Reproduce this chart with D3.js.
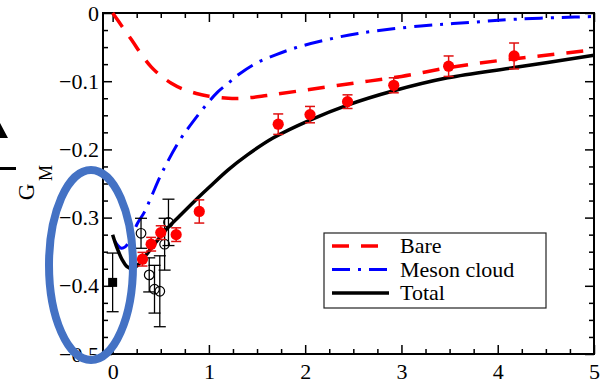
<!DOCTYPE html>
<html lang="en">
<head>
<meta charset="UTF-8">
<title>G_M vs Q2</title>
<script src="https://d3js.org/d3.v7.min.js"></script>
<style>
    body { margin: 0; background: white; }
    svg { display: block; }
    svg text { font-family: "Liberation Serif", "DejaVu Serif", serif; }
</style>
</head>
<body>
<svg id="chart" width="606" height="383"></svg>
<script>
// Curves: [Q2, G_M]
const bareCurve = [[0, 0], [0.1, -0.02], [0.2, -0.04], [0.3, -0.061], [0.4, -0.079], [0.5, -0.092],
    [0.61, -0.103], [0.72, -0.111], [0.87, -0.118], [1.0, -0.122], [1.2, -0.125], [1.35, -0.125],
    [1.6, -0.121], [2.0, -0.113], [2.5, -0.103], [3.0, -0.093], [3.5, -0.080], [4.0, -0.070],
    [4.5, -0.062], [5.0, -0.054]];
const mesonCurve = [[0.02, -0.334], [0.05, -0.340], [0.09, -0.345], [0.13, -0.343], [0.18, -0.333],
    [0.26, -0.308], [0.33, -0.292], [0.4, -0.270], [0.52, -0.232], [0.7, -0.186], [0.8, -0.166],
    [0.93, -0.142], [1.09, -0.116], [1.2, -0.103], [1.32, -0.089], [1.5, -0.073], [1.7, -0.061],
    [1.9, -0.051], [2.2, -0.040], [2.55, -0.030], [3.2, -0.019], [3.7, -0.014], [4.2, -0.009],
    [4.8, -0.006], [5.0, -0.005]];
const totalCurve = [[0, -0.325], [0.05, -0.346], [0.1, -0.362], [0.15, -0.372], [0.2, -0.375],
    [0.25, -0.371], [0.33, -0.358], [0.45, -0.336], [0.56, -0.317], [0.7, -0.297], [0.85, -0.276],
    [1.0, -0.256], [1.2, -0.230], [1.4, -0.208], [1.67, -0.183], [2.05, -0.157],
    [2.44, -0.135], [2.92, -0.114], [3.48, -0.095], [4.17, -0.080], [5.0, -0.062]];

// Data points: [Q2, G_M, error]
const redPoints = [[0.31, -0.361, 0.010], [0.40, -0.339, 0.010], [0.50, -0.322, 0.010],
    [0.66, -0.325, 0.010], [0.90, -0.291, 0.017], [1.72, -0.163, 0.015], [2.05, -0.149, 0.012],
    [2.44, -0.130, 0.010], [2.92, -0.106, 0.011], [3.49, -0.078, 0.015], [4.17, -0.063, 0.019]];
const openPoints = [[0.295, -0.323, 0.022], [0.38, -0.384, 0.025], [0.435, -0.405, 0.035],
    [0.49, -0.408, 0.052], [0.54, -0.339, 0.038], [0.58, -0.307, 0.034]];
const squarePoints = [[0, -0.395, 0.043]];

const xTicks = [0, 1, 2, 3, 4, 5];
const yTicks = [0, -0.1, -0.2, -0.3, -0.4, -0.5];
const legendNames = ["Bare", "Meson cloud", "Total"];

const svg = d3.select("#chart");
const plotLeft = 103, plotRight = 594, plotTop = 13, plotBottom = 354;
const serif = "Liberation Serif, DejaVu Serif, serif";

const x = d3.scaleLinear().domain([-0.1, 5]).range([plotLeft, plotRight]);
const y = d3.scaleLinear().domain([-0.5, 0]).range([plotBottom, plotTop]);

const xMinor = d3.range(0, 5.001, 0.25).filter(v => Math.abs(v - Math.round(v)) > 1e-6);
const yMinor = d3.range(-0.5, 0.0001, 0.025).filter(v => Math.abs(v * 10 - Math.round(v * 10)) > 1e-6);

function yFmt(d) { return d === 0 ? "0" : "\u2212" + Math.abs(d).toFixed(1); }

// Axes (ticks pointing inwards on all four sides)
function styleAxis(g) {
    g.attr("font-family", serif);
    g.select(".domain").remove();
    g.selectAll("line").attr("stroke", "black").attr("stroke-width", 1.5);
    g.selectAll("text").attr("font-family", serif).attr("font-size", 22).attr("fill", "black");
}
svg.append("g").attr("transform", `translate(0,${plotBottom})`)
    .call(d3.axisBottom(x).tickValues(xTicks).tickSize(-9).tickPadding(9).tickFormat(d3.format("d"))).call(styleAxis);
svg.append("g").attr("transform", `translate(0,${plotBottom})`)
    .call(d3.axisBottom(x).tickValues(xMinor).tickSize(-5).tickFormat("")).call(styleAxis);
svg.append("g").attr("transform", `translate(0,${plotTop})`)
    .call(d3.axisTop(x).tickValues(xTicks).tickSize(-9).tickFormat("")).call(styleAxis);
svg.append("g").attr("transform", `translate(0,${plotTop})`)
    .call(d3.axisTop(x).tickValues(xMinor).tickSize(-5).tickFormat("")).call(styleAxis);
svg.append("g").attr("transform", `translate(${plotLeft},0)`)
    .call(d3.axisLeft(y).tickValues(yTicks).tickSize(-9).tickPadding(4).tickFormat(yFmt)).call(styleAxis);
svg.append("g").attr("transform", `translate(${plotLeft},0)`)
    .call(d3.axisLeft(y).tickValues(yMinor).tickSize(-5).tickFormat("")).call(styleAxis);
svg.append("g").attr("transform", `translate(${plotRight},0)`)
    .call(d3.axisRight(y).tickValues(yTicks).tickSize(-9).tickFormat("")).call(styleAxis);
svg.append("g").attr("transform", `translate(${plotRight},0)`)
    .call(d3.axisRight(y).tickValues(yMinor).tickSize(-5).tickFormat("")).call(styleAxis);

svg.append("rect")
    .attr("x", plotLeft).attr("y", plotTop).attr("width", plotRight - plotLeft).attr("height", plotBottom - plotTop)
    .attr("fill", "none").attr("stroke", "black").attr("stroke-width", 2);

// Y axis title
svg.append("text").attr("transform", "translate(34,192) rotate(-90)")
    .attr("text-anchor", "middle").attr("font-family", serif).attr("font-size", 23).text("G");
svg.append("text").attr("transform", "translate(52,173) rotate(-90)")
    .attr("text-anchor", "middle").attr("font-family", serif).attr("font-size", 18).text("M");

// Curves
const line = d3.line().x(d => x(d[0])).y(d => y(d[1])).curve(d3.curveCatmullRom.alpha(0.5));
const styles = [
    { data: bareCurve, color: "#ff0000", width: 3.5, dash: "17,12" },
    { data: mesonCurve, color: "#0000ff", width: 3, dash: "18,8,3,8" },
    { data: totalCurve, color: "black", width: 3.5, dash: null }
];
const plot = svg.append("g");
plot.selectAll("path.curve")
    .data(styles)
    .join("path")
    .attr("class", "curve")
    .attr("d", d => line(d.data))
    .attr("fill", "none")
    .attr("stroke", d => d.color)
    .attr("stroke-width", d => d.width)
    .attr("stroke-dasharray", d => d.dash);

// Error bars
function errorBars(data, color, cap, width) {
    const g = plot.append("g").attr("stroke", color).attr("stroke-width", width);
    g.selectAll("line.v").data(data).join("line").attr("class", "v")
        .attr("x1", d => x(d[0])).attr("x2", d => x(d[0]))
        .attr("y1", d => y(d[1] + d[2])).attr("y2", d => y(d[1] - d[2]));
    g.selectAll("line.t").data(data).join("line").attr("class", "t")
        .attr("x1", d => x(d[0]) - cap).attr("x2", d => x(d[0]) + cap)
        .attr("y1", d => y(d[1] + d[2])).attr("y2", d => y(d[1] + d[2]));
    g.selectAll("line.b").data(data).join("line").attr("class", "b")
        .attr("x1", d => x(d[0]) - cap).attr("x2", d => x(d[0]) + cap)
        .attr("y1", d => y(d[1] - d[2])).attr("y2", d => y(d[1] - d[2]));
}
errorBars(openPoints, "black", 6, 1.3);
errorBars(squarePoints, "black", 6, 1.3);
plot.selectAll("circle.open").data(openPoints).join("circle").attr("class", "open")
    .attr("cx", d => x(d[0])).attr("cy", d => y(d[1])).attr("r", 4.8)
    .attr("fill", "none").attr("stroke", "black").attr("stroke-width", 1.2);
plot.selectAll("rect.sq").data(squarePoints).join("rect").attr("class", "sq")
    .attr("x", d => x(d[0]) - 4.5).attr("y", d => y(d[1]) - 4.5)
    .attr("width", 9).attr("height", 9).attr("fill", "black");
errorBars(redPoints, "#e01010", 5, 1.5);
plot.selectAll("circle.red").data(redPoints).join("circle").attr("class", "red")
    .attr("cx", d => x(d[0])).attr("cy", d => y(d[1])).attr("r", 5.6)
    .attr("fill", "#ff0000");

// Legend
const legend = svg.append("g");
legend.append("rect").attr("x", 324).attr("y", 233).attr("width", 222).attr("height", 75)
    .attr("fill", "white").attr("stroke", "#222").attr("stroke-width", 1.2);
legendNames.forEach((name, i) => {
    const ly = 246 + i * 23.5;
    legend.append("line").attr("x1", 332).attr("x2", 389).attr("y1", ly).attr("y2", ly)
        .attr("stroke", styles[i].color).attr("stroke-width", styles[i].width)
        .attr("stroke-dasharray", styles[i].dash);
    legend.append("text").attr("x", 400).attr("y", ly + 7)
        .attr("font-family", serif).attr("font-size", 22).text(name);
});

// Stray marks from the neighbouring panel at the left edge
svg.append("path").attr("d", "M0,123 L8,138 L0,138 Z").attr("fill", "black");
svg.append("rect").attr("x", 0).attr("y", 167).attr("width", 16).attr("height", 3).attr("fill", "black");

// Highlight ellipse drawn on top
svg.append("ellipse").attr("cx", 91).attr("cy", 265).attr("rx", 42).attr("ry", 95)
    .attr("fill", "none").attr("stroke", "#4472C4").attr("stroke-width", 8);
</script>
</body>
</html>
